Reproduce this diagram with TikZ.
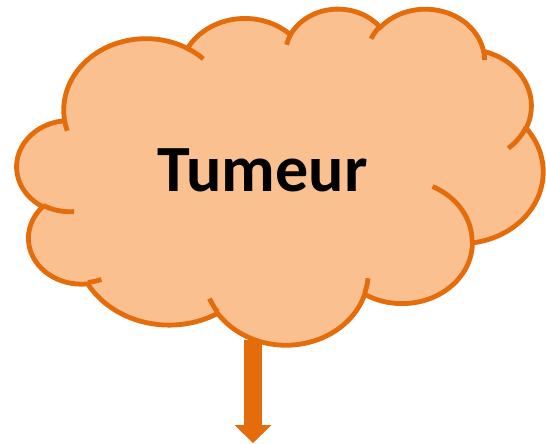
\documentclass[tikz,border=0pt]{standalone}
\usepackage{fontspec}
\setmainfont{Carlito}
\usepackage{tikz}
\usetikzlibrary{arrows.meta}
\definecolor{mfill}{HTML}{FAC090}
\definecolor{morange}{HTML}{E46C0A}
\tikzset{
  cloud/.style={fill=mfill,draw=morange,line width=4.8pt},
  cloud bump/.style={draw=morange,line width=4.8pt}, % inner arcs of the cloud
  connect arrow/.style={-{Triangle[length=18pt,width=37pt,line width=0pt]},line width=18pt,morange}
}

\begin{document}
\begin{tikzpicture}[x=1pt, y=-1pt, every node/.style={font=\bfseries\fontsize{66}{70}\selectfont}]

  \useasboundingbox (0,0) rectangle (546,444);

  % cloud outline (ellipse arcs, start angle / sweep)
  \begin{scope}[shift={(17,8)}, x=1.2176pt, y=-0.7778pt]
    \filldraw[cloud] (39.00,143.70)
      \foreach \w/\h/\s/\d [evaluate={\s as \ps using atan2(\w*sin(\s),\h*cos(\s))},
                            evaluate={\d as \pe using \ps+mod(atan2(\w*sin(\s+\d),\h*cos(\s+\d))-\ps+720,360)}] in
        {67.53/91.90/-190.4875/123.7805, 53.33/72.67/-144.1024/89.9452,
         43.65/59.45/-145.8079/99.7230, 48.57/65.95/-130.9861/117.2417,
         53.33/72.73/-78.7089/109.0269, 67.75/92.20/-46.2673/130.2690,
         57.85/78.67/0.6250/114.0333, 67.52/92.15/22.4516/115.1726,
         77.20/105.43/66.2426/75.7110, 43.60/59.18/-274.9421/146.7356,
         43.45/59.45/-246.8285/152.5189}
        { arc[start angle=\ps, end angle=\pe, x radius=\w, y radius=\h] }
      -- cycle;

    % inner bumps
    \foreach \x/\y/\w/\h/\s/\d [evaluate={\s as \ps using atan2(\w*sin(\s),\h*cos(\s))},
                                evaluate={\d as \pe using \ps+mod(atan2(\w*sin(\s+\d),\h*cos(\s+\d))-\ps+720,360)}] in
      {46.93/261.77/43.45/59.45/86.742/26.430, 69.28/348.99/43.60/59.18/73.611/11.448,
       164.78/390.90/67.52/92.15/137.624/14.081, 288.27/347.51/67.52/92.15/6.453/15.998,
       341.29/229.54/57.85/78.67/-70.292/70.917, 417.98/153.54/53.33/72.73/30.318/27.752,
       383.24/54.26/48.57/65.95/-13.744/14.859, 290.78/39.52/48.57/65.95/-149.181/18.195,
       221.41/47.20/43.65/59.45/-163.494/17.686, 140.00/51.92/67.53/91.90/-66.707/12.319,
       41.27/157.89/67.53/91.90/157.164/11.854}
      \draw[cloud bump] (\x,\y) arc[start angle=\ps, end angle=\pe, x radius=\w, y radius=\h];
  \end{scope}

  % label
  \node[anchor=base] (tumeur) at (262.5,191) {Tumeur};

  % arrow out of the cloud
  \coordinate (tail) at (253,340);
  \coordinate (tip) at (253,443);
  \draw[connect arrow] (tail) -- (tip);

\end{tikzpicture}
\end{document}
